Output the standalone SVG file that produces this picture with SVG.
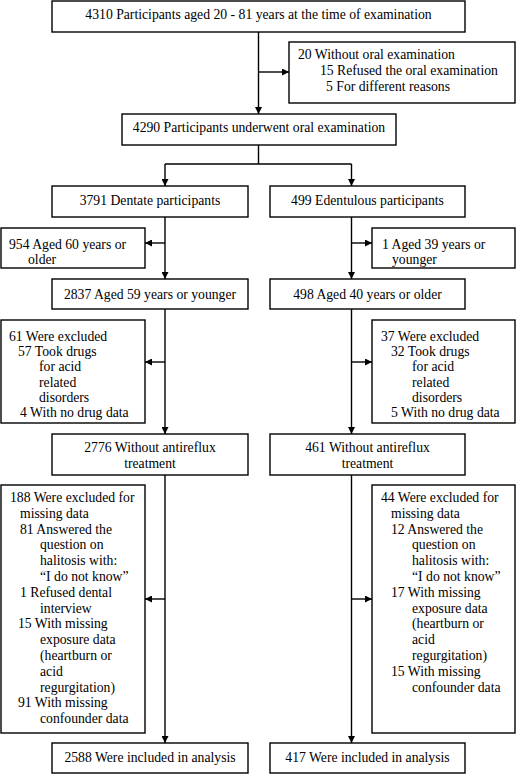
<svg xmlns="http://www.w3.org/2000/svg" width="517" height="775" viewBox="0 0 517 775">
<defs>
<marker id="ah" viewBox="0 0 10 10" refX="10" refY="5" markerWidth="7" markerHeight="7" markerUnits="userSpaceOnUse" orient="auto"><path d="M0,0 L10,5 L0,10 z" fill="#000"/></marker>
</defs>
<style>
rect{fill:#fff;stroke:#000;stroke-width:1.4}
text{font-size:13.7px;fill:#000}
.c{text-anchor:middle}
.ln{fill:none;stroke:#000;stroke-width:1.4}
.ar{fill:none;stroke:#000;stroke-width:1.4;marker-end:url(#ah)}
</style>
<rect x="0" y="0" width="517" height="775" style="fill:#fff;stroke:none"/>
<g font-family="Liberation Serif, Times New Roman, serif">
<g id="connectors">
<line class="ar" x1="258.5" y1="32" x2="258.5" y2="114"/>
<line class="ar" x1="258.5" y1="72" x2="289" y2="72"/>
<polyline class="ln" points="258.5,145 258.5,164"/>
<line class="ln" x1="165" y1="164" x2="351.5" y2="164"/>
<line class="ar" x1="165" y1="164" x2="165" y2="186"/>
<line class="ar" x1="351.5" y1="164" x2="351.5" y2="186"/>
<line class="ar" x1="165" y1="217" x2="165" y2="279"/>
<line class="ar" x1="165" y1="243" x2="145" y2="243"/>
<line class="ar" x1="165" y1="309" x2="165" y2="434"/>
<line class="ar" x1="165" y1="362" x2="145" y2="362"/>
<line class="ar" x1="165" y1="475" x2="165" y2="743"/>
<line class="ar" x1="165" y1="599" x2="145" y2="599"/>
<line class="ar" x1="351.5" y1="217" x2="351.5" y2="279"/>
<line class="ar" x1="351.5" y1="243" x2="372" y2="243"/>
<line class="ar" x1="351.5" y1="309" x2="351.5" y2="434"/>
<line class="ar" x1="351.5" y1="362" x2="372" y2="362"/>
<line class="ar" x1="351.5" y1="475" x2="351.5" y2="743"/>
<line class="ar" x1="351.5" y1="599" x2="372" y2="599"/>
</g>
<g id="n4310"><rect x="52" y="1" width="413" height="31"/><text class="c" x="258.5" y="19">4310 Participants aged 20 - 81 years at the time of examination</text></g>
<g id="n20"><rect x="289" y="42" width="226" height="61"/>
<text x="298" y="59">20 Without oral examination</text>
<text x="320" y="75">15 Refused the oral examination</text>
<text x="326" y="91">5 For different reasons</text></g>
<g id="n4290"><rect x="122" y="114" width="274" height="31"/><text class="c" x="259" y="132">4290 Participants underwent oral examination</text></g>
<g id="n3791"><rect x="52" y="186" width="196" height="31"/><text class="c" x="150" y="205">3791 Dentate participants</text></g>
<g id="n499"><rect x="270" y="186" width="195" height="31"/><text class="c" x="367.5" y="205">499 Edentulous participants</text></g>
<g id="n954"><rect x="1" y="228" width="144" height="40"/>
<text x="9" y="249">954 Aged 60 years or</text>
<text x="28" y="264">older</text></g>
<g id="n1"><rect x="372" y="228" width="143" height="40"/>
<text x="382" y="249">1 Aged 39 years or</text>
<text x="392" y="264">younger</text></g>
<g id="n2837"><rect x="52" y="279" width="196" height="30"/><text class="c" x="150" y="298.5">2837 Aged 59 years or younger</text></g>
<g id="n498"><rect x="270" y="279" width="195" height="30"/><text class="c" x="367.5" y="298.5">498 Aged 40 years or older</text></g>
<g id="n61"><rect x="1" y="320" width="144" height="103"/>
<text x="9" y="341">61 Were excluded</text>
<text x="18" y="356.2">57 Took drugs</text>
<text x="39" y="371.4">for acid</text>
<text x="39" y="386.6">related</text>
<text x="39" y="401.8">disorders</text>
<text x="20" y="417">4 With no drug data</text></g>
<g id="n37"><rect x="372" y="320" width="143" height="103"/>
<text x="381" y="341">37 Were excluded</text>
<text x="391" y="356.2">32 Took drugs</text>
<text x="412" y="371.4">for acid</text>
<text x="412" y="386.6">related</text>
<text x="412" y="401.8">disorders</text>
<text x="391" y="417">5 With no drug data</text></g>
<g id="n2776"><rect x="52" y="434" width="196" height="41"/>
<text class="c" x="150" y="451.5">2776 Without antireflux</text>
<text class="c" x="150" y="467.5">treatment</text></g>
<g id="n461"><rect x="270" y="434" width="195" height="41"/>
<text class="c" x="367.5" y="451.5">461 Without antireflux</text>
<text class="c" x="367.5" y="467.5">treatment</text></g>
<g id="n188"><rect x="1" y="485" width="144" height="248"/>
<text x="10" y="502">188 Were excluded for</text>
<text x="20" y="517.8">missing data</text>
<text x="20" y="533.6">81 Answered the</text>
<text x="40" y="549.4">question on</text>
<text x="40" y="565.2">halitosis with:</text>
<text x="40" y="581">“I do not know”</text>
<text x="20" y="596.8">1 Refused dental</text>
<text x="40" y="612.6">interview</text>
<text x="18" y="628.4">15 With missing</text>
<text x="40" y="644.2">exposure data</text>
<text x="40" y="660">(heartburn or</text>
<text x="40" y="675.8">acid</text>
<text x="40" y="691.6">regurgitation)</text>
<text x="18" y="707.4">91 With missing</text>
<text x="40" y="723.2">confounder data</text></g>
<g id="n44"><rect x="372" y="485" width="143" height="248"/>
<text x="381" y="502">44 Were excluded for</text>
<text x="391" y="517.8">missing data</text>
<text x="391" y="533.6">12 Answered the</text>
<text x="412" y="549.4">question on</text>
<text x="412" y="565.2">halitosis with:</text>
<text x="412" y="581">“I do not know”</text>
<text x="391" y="596.8">17 With missing</text>
<text x="412" y="612.6">exposure data</text>
<text x="412" y="628.4">(heartburn or</text>
<text x="412" y="644.2">acid</text>
<text x="412" y="660">regurgitation)</text>
<text x="391" y="675.8">15 With missing</text>
<text x="412" y="691.6">confounder data</text></g>
<g id="n2588"><rect x="52" y="743" width="196" height="30"/><text class="c" x="150" y="762">2588 Were included in analysis</text></g>
<g id="n417"><rect x="270" y="743" width="195" height="30"/><text class="c" x="367.5" y="762">417 Were included in analysis</text></g>
</g>
</svg>
